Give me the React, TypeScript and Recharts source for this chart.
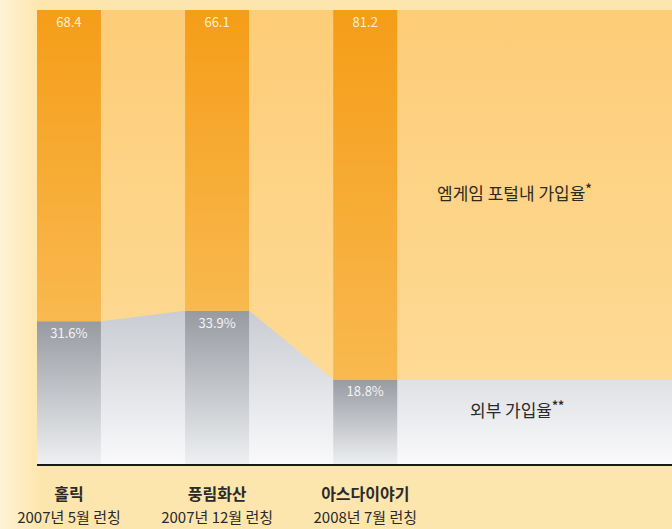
import { Area, Bar, ComposedChart, LabelList, XAxis, YAxis } from "recharts";

const games = ["홀릭", "풍림화산", "아스다이야기"];
const launches = ["2007년 5월 런칭", "2007년 12월 런칭", "2008년 7월 런칭"];
const portalRate = [68.4, 66.1, 81.2];
const externalRate = [31.6, 33.9, 18.8];

const HALF = 0.216;
const X_END = 4.07;

// bar rows sit on the category centres
const barRows = games.map((g, i) => ({ x: i, game: g, ext: externalRate[i], por: portalRate[i] }));

// the background band runs along the bar edges and on to the right border
const areaRows: { x: number; ext: number; total: number }[] = [];
games.forEach((_, i) => {
  const ext = externalRate[i];
  const total = externalRate[i] + portalRate[i];
  areaRows.push({ x: i - HALF, ext, total });
  areaRows.push({ x: i + HALF, ext, total });
});
areaRows.push({
  x: X_END,
  ext: externalRate[externalRate.length - 1],
  total: externalRate[externalRate.length - 1] + portalRate[portalRate.length - 1],
});

const FONT = "'Noto Sans CJK KR', 'Noto Sans', sans-serif";

const makeLabel = (suffix: string, color: string) => (props: any) => {
  const { x, y, width, value } = props;
  if (value === undefined || value === null) return null;
  return (
    <text
      x={Number(x) + Number(width) / 2}
      y={Number(y) + 17}
      textAnchor="middle"
      fontSize={13}
      fontFamily={FONT}
      fill={color}
    >
      {`${value}${suffix}`}
    </text>
  );
};

const GameTick = (props: any) => {
  const { x, y, payload } = props;
  const i = Math.round(payload.value);
  if (i < 0 || i >= games.length) return null;
  return (
    <g>
      <text x={x} y={y + 27} textAnchor="middle" fontSize={16} fontWeight={700} fontFamily={FONT} fill="#2a2a2a">
        {games[i]}
      </text>
      <text x={x} y={y + 50} textAnchor="middle" fontSize={15} fontFamily={FONT} fill="#2a2a2a">
        {launches[i]}
      </text>
    </g>
  );
};

export default function App() {
  return (
    <div
      style={{
        position: "absolute",
        left: 0,
        top: 0,
        width: 672,
        height: 529,
        background: "linear-gradient(90deg, #fff3d6 0px, #fde6ae 40px, #fde6ae 100%)",
        overflow: "hidden",
      }}
    >
      <ComposedChart width={672} height={529} data={barRows} margin={{ top: 10, right: 0, left: 37, bottom: 0 }}>
        <defs>
          <linearGradient id="orangeBar" x1="0" y1="0" x2="0" y2="1">
            <stop offset="0%" stopColor="#f59d18" />
            <stop offset="100%" stopColor="#f9b94f" />
          </linearGradient>
          <linearGradient id="grayBar" x1="0" y1="0" x2="0" y2="1">
            <stop offset="0%" stopColor="#979aa1" />
            <stop offset="100%" stopColor="#eef0f2" />
          </linearGradient>
          <linearGradient id="orangeArea" x1="0" y1="0" x2="0" y2="1">
            <stop offset="0%" stopColor="#fdcd78" />
            <stop offset="100%" stopColor="#fedd9c" />
          </linearGradient>
          <linearGradient id="grayArea" x1="0" y1="0" x2="0" y2="1">
            <stop offset="0%" stopColor="#c9ccd2" />
            <stop offset="100%" stopColor="#fafafb" />
          </linearGradient>
        </defs>
        <XAxis
          xAxisId="bars"
          dataKey="x"
          type="number"
          domain={[-HALF, X_END]}
          allowDataOverflow
          ticks={[0, 1, 2]}
          tick={<GameTick />}
          tickLine={false}
          axisLine={{ stroke: "#1a1a1a", strokeWidth: 2 }}
          height={64}
        />
        <XAxis
          xAxisId="band"
          dataKey="x"
          type="number"
          domain={[-HALF, X_END]}
          allowDataOverflow
          hide
          height={0}
        />
        <YAxis hide domain={[0, 100]} />
        <Area
          xAxisId="band"
          data={areaRows}
          type="linear"
          dataKey="total"
          stroke="none"
          fill="url(#orangeArea)"
          fillOpacity={1}
          isAnimationActive={false}
        />
        <Area
          xAxisId="band"
          data={areaRows}
          type="linear"
          dataKey="ext"
          stroke="none"
          fill="url(#grayArea)"
          fillOpacity={1}
          isAnimationActive={false}
        />
        <Bar xAxisId="bars" dataKey="ext" stackId="b" barSize={64} fill="url(#grayBar)" isAnimationActive={false}>
          <LabelList dataKey="ext" content={makeLabel("%", "#f4f4f6")} />
        </Bar>
        <Bar xAxisId="bars" dataKey="por" stackId="b" barSize={64} fill="url(#orangeBar)" isAnimationActive={false}>
          <LabelList dataKey="por" content={makeLabel("", "#fff2cf")} />
        </Bar>
      </ComposedChart>
      <div
        style={{
          position: "absolute",
          left: 437,
          top: 179,
          fontFamily: FONT,
          fontSize: 17,
          color: "#2e2a22",
          whiteSpace: "nowrap",
        }}
      >
        엠게임 포털내 가입율<sup style={{ fontSize: 12, fontWeight: 700 }}>*</sup>
      </div>
      <div
        style={{
          position: "absolute",
          left: 470,
          top: 396,
          fontFamily: FONT,
          fontSize: 17,
          color: "#2a2a2a",
          whiteSpace: "nowrap",
        }}
      >
        외부 가입율<sup style={{ fontSize: 12, fontWeight: 700 }}>**</sup>
      </div>
    </div>
  );
}
